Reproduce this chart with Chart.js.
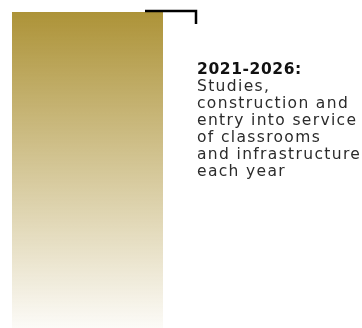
<!DOCTYPE html>
<html>
<head>
<meta charset="utf-8">
<script src="https://cdn.jsdelivr.net/npm/chart.js@4"></script>
<style>
  html, body { margin: 0; padding: 0; background: #fff; }
  #wrap { position: relative; width: 362px; height: 328px; overflow: hidden; }
  #note {
    position: absolute; left: 197px; top: 61px;
    font-family: "DejaVu Sans", sans-serif; font-size: 15.5px; line-height: 17px;
    letter-spacing: 1.35px; color: #2b2b2b; white-space: nowrap;
  }
  #note b { font-weight: 700; color: #111; letter-spacing: 0.6px; }
</style>
</head>
<body>
<div id="wrap">
  <canvas id="phaseChart" width="362" height="328"></canvas>
  <div id="note"><b>2021-2026:</b><br>Studies,<br>construction and<br>entry into service<br>of classrooms<br>and infrastructure<br>each year</div>
</div>
<script>
// données
const periods = ['2021-2026'];
const progress = [100];
const axisMax = 100;

// ligne noire au sommet de la barre
const bracketPlugin = {
  id: 'bracket',
  afterDatasetsDraw(chart) {
    const bar = chart.getDatasetMeta(0).data[0];
    const right = bar.x + bar.width / 2;
    const top = bar.y;
    const c = chart.ctx;
    c.save();
    c.strokeStyle = '#000';
    c.lineWidth = 2.5;
    c.beginPath();
    c.moveTo(right - 18, top - 1);
    c.lineTo(right + 33, top - 1);
    c.lineTo(right + 33, top + 12);
    c.stroke();
    c.restore();
  }
};

const ctx = document.getElementById('phaseChart').getContext('2d');
new Chart(ctx, {
  type: 'bar',
  data: {
    labels: periods,
    datasets: [{
      data: progress,
      backgroundColor: function(context) {
        const area = context.chart.chartArea;
        if (!area) return '#ad933a';
        const g = context.chart.ctx.createLinearGradient(0, area.top, 0, area.bottom);
        g.addColorStop(0, 'rgba(173,147,56,1)');
        g.addColorStop(1, 'rgba(173,147,56,0.04)');
        return g;
      },
      borderWidth: 0,
      barPercentage: 1,
      categoryPercentage: 1
    }]
  },
  options: {
    responsive: false,
    animation: false,
    layout: { padding: { left: 12, right: 199, top: 12, bottom: 0 } },
    scales: {
      x: { display: false },
      y: { display: false, min: 0, max: axisMax }
    },
    plugins: {
      legend: { display: false },
      tooltip: { enabled: false }
    }
  },
  plugins: [bracketPlugin]
});
</script>
</body>
</html>
